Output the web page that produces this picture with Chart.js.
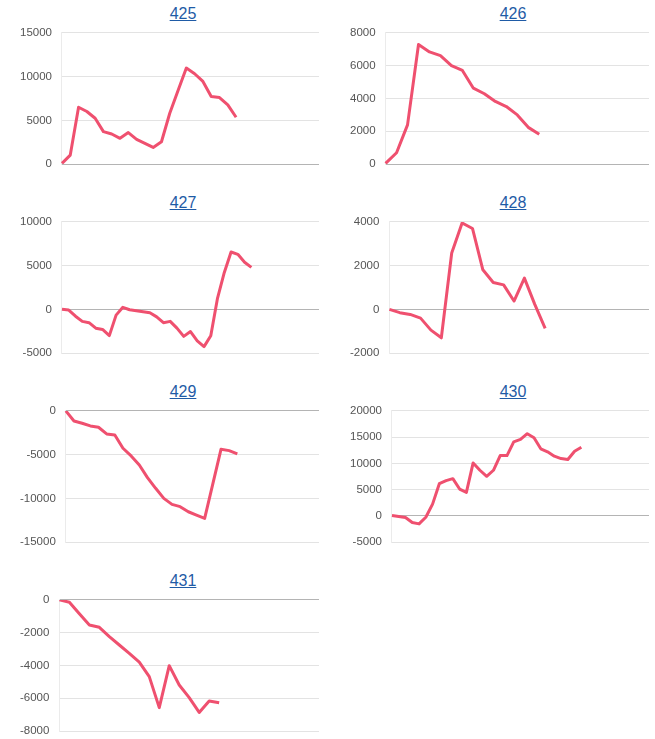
<!DOCTYPE html>
<html>
<head>
<meta charset="utf-8">
<script src="https://cdn.jsdelivr.net/npm/chart.js@4/dist/chart.umd.min.js"></script>
<style>
  body { margin: 0; background: #fff; font-family: "Liberation Sans", Arial, sans-serif; }
  #grid { position: relative; width: 655px; height: 739px; overflow: hidden; }
  .cell { position: absolute; width: 330px; height: 189px; }
  .cell a { position: absolute; left: 133px; top: 4px; width: 100px; text-align: center;
            font-size: 16px; line-height: 20px; color: #1f5ba6; text-decoration: underline; }
  .box { position: absolute; left: 10px; top: 16px; width: 309px; height: 165px; }
</style>
</head>
<body>
<div id="grid"></div>
<script>
// chart ids (titles)
const chartIds = ['425', '426', '427', '428', '429', '430', '431'];

// number of x categories on each chart (days, labels hidden)
const labelCounts = [32, 25, 39, 26, 32, 39, 27];

// series values
const values425 = [80, 1030, 6500, 6010, 5240, 3710, 3440, 2950, 3600, 2830, 2370, 1910, 2560, 5810, 8420, 10980, 10330, 9450, 7730, 7610, 6770, 5360];
const values426 = [40, 690, 2390, 7290, 6840, 6610, 6000, 5710, 4630, 4290, 3820, 3510, 3000, 2240, 1820];
const values427 = [0, -80, -780, -1370, -1520, -2150, -2300, -3000, -660, 230, -40, -160, -270, -390, -860, -1520, -1370, -2150, -3090, -2540, -3590, -4260, -3010, 1290, 4220, 6560, 6290, 5390, 4800];
const values428 = [0, -150, -230, -400, -950, -1300, 2580, 3950, 3700, 1810, 1230, 1120, 380, 1430, 230, -870];
const values429 = [0, -1150, -1410, -1720, -1870, -2630, -2750, -4270, -5150, -6180, -7630, -8850, -10000, -10690, -10950, -11530, -11910, -12290, -8340, -4390, -4540, -4920];
const values430 = [60, -130, -320, -1280, -1530, -260, 2240, 6130, 6710, 7090, 5110, 4470, 10090, 8690, 7540, 8690, 11490, 11490, 14110, 14560, 15650, 14880, 12770, 12200, 11370, 10920, 10730, 12320, 13090];
const values431 = [0, -140, -850, -1530, -1670, -2240, -2750, -3260, -3800, -4680, -6570, -4010, -5190, -5960, -6860, -6160, -6270];

// y axis ranges: [min, max, step]
const yMins = [0, 0, -5000, -2000, -15000, -5000, -8000];
const yMaxs = [15000, 8000, 10000, 4000, 0, 20000, 0];
const ySteps = [5000, 2000, 5000, 2000, 5000, 5000, 2000];

const allValues = [values425, values426, values427, values428, values429, values430, values431];

function dayLabels(n) {
    const out = [];
    for (let i = 1; i <= n; i++) out.push(String(i));
    return out;
}

function renderChart(index) {
    const grid = document.getElementById('grid');
    const cell = document.createElement('div');
    cell.className = 'cell';
    cell.style.left = (index % 2) * 330 + 'px';
    cell.style.top = Math.floor(index / 2) * 189 + 'px';
    cell.innerHTML = `<a href="#">${chartIds[index]}</a><div class="box"><canvas></canvas></div>`;
    grid.appendChild(cell);

    const ctx = cell.querySelector('canvas').getContext('2d');
    new Chart(ctx, {
        type: 'line',
        data: {
            labels: dayLabels(labelCounts[index]),
            datasets: [{
                data: allValues[index],
                borderColor: '#ef506f',
                borderWidth: 3,
                pointRadius: 0,
                tension: 0,
                borderJoinStyle: 'round',
                fill: false
            }]
        },
        options: {
            responsive: true,
            maintainAspectRatio: false,
            animation: false,
            layout: { padding: 0 },
            plugins: { legend: { display: false }, tooltip: { enabled: false } },
            scales: {
                x: { display: false },
                y: {
                    min: yMins[index],
                    max: yMaxs[index],
                    border: { display: true, color: '#ebebeb', width: 1 },
                    grid: {
                        drawTicks: false,
                        color: c => c.tick && c.tick.value === 0 ? '#b4b4b4' : '#e3e3e3'
                    },
                    ticks: {
                        stepSize: ySteps[index],
                        padding: 10,
                        color: '#555',
                        font: { family: '"Liberation Sans", Arial, sans-serif', size: 11.5 },
                        callback: v => String(v)
                    }
                }
            }
        }
    });
}

chartIds.forEach((id, i) => renderChart(i));
</script>
</body>
</html>
